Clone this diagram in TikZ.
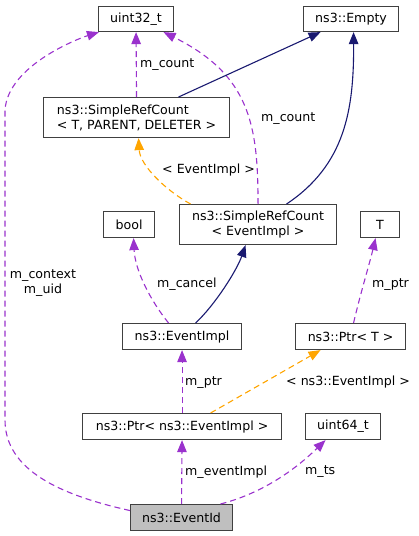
\documentclass[tikz,border=0pt]{standalone}
\usepackage{fontspec}
\setmainfont{DejaVu Sans}
\usetikzlibrary{arrows.meta,calc}
\definecolor{eorchid}{HTML}{9A32CD}
\definecolor{enavy}{HTML}{191970}
\definecolor{eorange}{HTML}{FFA500}
\begin{document}
\begin{tikzpicture}[x=1pt,y=-1pt,
  every node/.style={font=\fontsize{12.6}{15}\selectfont},
  cbox/.style={draw=black!75,line width=1.1pt,fill=white,anchor=north west,inner sep=0pt},
  rel/.style={draw=eorchid,line width=1.1pt,dash pattern=on 6pt off 4pt,-{Triangle[length=12pt,width=9.5pt]}},
  inh/.style={draw=enavy,line width=1.1pt,-{Triangle[length=12pt,width=9.5pt]}},
  tpl/.style={draw=eorange,line width=1.1pt,dash pattern=on 6pt off 4pt,-{Triangle[length=12pt,width=9.5pt]}},
  lbl/.style={anchor=base west,inner sep=0pt}]
\useasboundingbox (0,0) rectangle (419,536);
% boxes
\node[cbox,minimum width=75pt,minimum height=25pt] (u32) at (98,6) {uint32\_t};
\node[cbox,minimum width=95pt,minimum height=25pt] (emp) at (303,6) {ns3::Empty};
\node[cbox,minimum width=186pt,minimum height=40pt,align=left] (src1) at (43,97) {ns3::SimpleRefCount\\{}< T, PARENT, DELETER >};
\node[cbox,minimum width=51pt,minimum height=26pt] (bool) at (103,211) {bool};
\node[cbox,minimum width=157pt,minimum height=40pt,align=center] (src2) at (179,204) {ns3::SimpleRefCount\\{}< EventImpl >};
\node[cbox,minimum width=39pt,minimum height=26pt] (T) at (360,211) {T};
\node[cbox,minimum width=119pt,minimum height=26pt] (ei) at (122,323) {ns3::EventImpl};
\node[cbox,minimum width=110pt,minimum height=26pt] (pt) at (295,323) {ns3::Ptr< T >};
\node[cbox,minimum width=199pt,minimum height=26pt] (pei) at (82,413) {ns3::Ptr< ns3::EventImpl >};
\node[cbox,minimum width=75pt,minimum height=26pt] (u64) at (305,413) {uint64\_t};
\node[cbox,minimum width=102pt,minimum height=26pt,fill=black!25] (eid) at (130,504) {ns3::EventId};
% edges
\draw[rel] (src1.north) -- (u32.south);
\node[lbl] (l1) at (140,67) {m\_count};
\draw[rel] (src2.north) .. controls (258,125) and (250,75) .. ([xshift=27.5pt]u32.south);
\node[lbl] (l2) at (261,121) {m\_count};
\draw[inh] ([xshift=42pt]src1.north) -- ([xshift=-30.5pt]emp.south);
\draw[inh] ([xshift=28.5pt]src2.north) .. controls (345,165) and (354,110) .. ([xshift=2.5pt]emp.south);
\draw[tpl] ([xshift=-67.5pt]src2.north) .. controls (165,190) and (140,165) .. ([xshift=2pt]src1.south);
\node[lbl] (l3) at (162,173) {< EventImpl >};
\coordinate (lb) at (5,420);
\coordinate (lt) at (5,110);
\draw[rel] ([yshift=7pt]eid.west) .. controls (60,495) and (5,470) .. (lb) -- (lt) .. controls (8,65) and (80,38) .. ([xshift=1pt]u32.south west);
\node[align=center,inner sep=0pt] (l4) at (43,283) {m\_context\\m\_uid};
\draw[rel] ([xshift=-13.5pt]ei.north) .. controls (150,300) and (135,270) .. ([xshift=4.5pt]bool.south);
\node[lbl] (l5) at (157,287) {m\_cancel};
\draw[inh] ([xshift=13.5pt]ei.north) .. controls (215,305) and (237,270) .. ([xshift=-12.5pt]src2.south);
\draw[rel] ([xshift=3pt]pt.north) .. controls (360,295) and (370,262) .. ([xshift=-4.5pt]T.south);
\node[lbl] (l6) at (372,287) {m\_ptr};
\draw[rel] (pei.north) -- (ei.south);
\node[lbl] (l7) at (185,385) {m\_ptr};
\draw[tpl] ([xshift=28.5pt]pei.north) -- ([xshift=-30pt]pt.south);
\node[lbl] (l8) at (286,385) {< ns3::EventImpl >};
\draw[rel] (eid.north) -- (pei.south);
\node[lbl] (l9) at (185,475) {m\_eventImpl};
\draw[rel] ([xshift=39pt]eid.north) .. controls (275,490) and (310,455) .. ([xshift=-17.5pt]u64.south);
\node[lbl] (l10) at (305,474) {m\_ts};
\end{tikzpicture}
\end{document}
